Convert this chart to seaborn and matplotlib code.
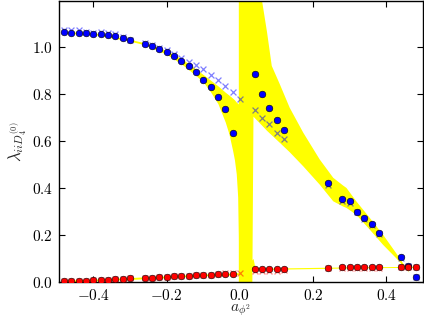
import numpy as np
import pandas as pd
import matplotlib
matplotlib.use("Agg")
import matplotlib.pyplot as plt
import seaborn as sns

# ---------------- data ----------------
# blue dots (upper level)
blue_x = [-0.48, -0.46, -0.44, -0.42, -0.40, -0.38, -0.36, -0.34, -0.32, -0.30,
          -0.26, -0.24, -0.22, -0.20, -0.18, -0.16, -0.14, -0.12, -0.10, -0.08,
          -0.06, -0.04, -0.02,
          0.04, 0.06, 0.08, 0.10, 0.12, 0.24, 0.28, 0.30, 0.32, 0.34, 0.36, 0.38,
          0.44, 0.46, 0.48]
blue_y = [1.061, 1.060, 1.060, 1.057, 1.056, 1.053, 1.049, 1.044, 1.037, 1.028,
          1.013, 1.003, 0.989, 0.976, 0.961, 0.938, 0.919, 0.891, 0.861, 0.829,
          0.787, 0.735, 0.632,
          0.886, 0.798, 0.740, 0.687, 0.645, 0.421, 0.353, 0.344, 0.299, 0.274, 0.247, 0.207,
          0.105, 0.068, 0.020]

# pale blue crosses
bluex_x = [-0.48, -0.46, -0.44, -0.42, -0.40, -0.38, -0.36, -0.34, -0.32, -0.30,
           -0.26, -0.24, -0.22, -0.20, -0.18, -0.16, -0.14, -0.12, -0.10, -0.08,
           -0.06, -0.04, -0.02, 0.00,
           0.04, 0.06, 0.08, 0.10, 0.12, 0.24, 0.28, 0.30, 0.32, 0.34, 0.36, 0.38,
           0.44, 0.46, 0.48]
bluex_y = [1.072, 1.071, 1.070, 1.062, 1.060, 1.063, 1.060, 1.055, 1.040, 1.030,
           1.015, 1.007, 0.997, 0.985, 0.970, 0.953, 0.937, 0.922, 0.904, 0.882,
           0.859, 0.834, 0.810, 0.780,
           0.731, 0.696, 0.673, 0.635, 0.609, 0.413, 0.345, 0.336, 0.296, 0.270, 0.244, 0.205,
           0.103, 0.066, 0.020]

# red dots (lower level)
red_x = [-0.48, -0.46, -0.44, -0.42, -0.40, -0.38, -0.36, -0.34, -0.32, -0.30,
         -0.26, -0.24, -0.22, -0.20, -0.18, -0.16, -0.14, -0.12, -0.10, -0.08,
         -0.06, -0.04, -0.02,
         0.04, 0.06, 0.08, 0.10, 0.12, 0.24, 0.28, 0.30, 0.32, 0.34, 0.36, 0.38,
         0.44, 0.46, 0.48]
red_y = [0.003, 0.004, 0.005, 0.006, 0.008, 0.009, 0.010, 0.012, 0.013, 0.015,
         0.017, 0.019, 0.020, 0.022, 0.024, 0.025, 0.027, 0.028, 0.030, 0.031,
         0.032, 0.033, 0.033,
         0.055, 0.055, 0.056, 0.056, 0.057, 0.060, 0.062, 0.062, 0.062, 0.063, 0.063, 0.063,
         0.064, 0.065, 0.065]

# pale red crosses
redx_x = [-0.48, -0.46, -0.44, -0.42, -0.40, -0.38, -0.36, -0.34, -0.32, -0.30,
          -0.26, -0.24, -0.22, -0.20, -0.18, -0.16, -0.14, -0.12, -0.10, -0.08,
          -0.06, -0.04, -0.02, 0.00,
          0.04, 0.06, 0.08, 0.10, 0.12, 0.24, 0.28, 0.30, 0.32, 0.34, 0.36, 0.38,
          0.44, 0.46, 0.48]
redx_y = [0.003, 0.004, 0.005, 0.006, 0.008, 0.009, 0.010, 0.012, 0.013, 0.015,
          0.017, 0.019, 0.020, 0.022, 0.024, 0.025, 0.027, 0.028, 0.030, 0.031,
          0.034, 0.037, 0.038, 0.040,
          0.047, 0.047, 0.048, 0.048, 0.049, 0.058, 0.060, 0.060, 0.060, 0.061, 0.061, 0.061,
          0.063, 0.064, 0.064]

# yellow band around the left upper branch
bandL_x = [-0.48, -0.40, -0.30, -0.26, -0.20, -0.16, -0.12, -0.10, -0.08, -0.06,
           -0.04, -0.03, -0.02, -0.015, -0.01, -0.006, -0.004, -0.003]
bandL_lo = [1.057, 1.052, 1.024, 1.009, 0.968, 0.928, 0.878, 0.850, 0.808, 0.758,
            0.680, 0.630, 0.560, 0.520, 0.460, 0.360, 0.200, 0.000]
bandL_hi = [1.065, 1.060, 1.032, 1.017, 0.984, 0.950, 0.905, 0.882, 0.858, 0.834,
            0.807, 0.795, 0.782, 0.775, 0.765, 0.760, 0.757, 0.755]

# yellow band around the right upper branch
bandR_x = [-0.003, 0.034, 0.037, 0.045, 0.060, 0.074, 0.087, 0.109, 0.136, 0.173,
           0.218, 0.255, 0.282, 0.291, 0.318, 0.355, 0.391, 0.427, 0.464, 0.482]
bandR_lo = [0.000, 0.000, 0.703, 0.690, 0.666, 0.643, 0.624, 0.592, 0.552, 0.492,
            0.414, 0.343, 0.321, 0.315, 0.286, 0.222, 0.158, 0.101, 0.037, 0.000]
bandR_hi = [3.000, 2.000, 1.600, 1.400, 1.200, 1.063, 0.919, 0.841, 0.741, 0.635,
            0.521, 0.443, 0.410, 0.400, 0.343, 0.272, 0.201, 0.122, 0.037, 0.001]

# yellow band around the lower branch
bandD_x = [-0.48, -0.40, -0.30, -0.20, -0.10, -0.04, -0.02, -0.003, 0.036, 0.040,
           0.050, 0.080, 0.120, 0.240, 0.300, 0.380, 0.440, 0.480]
bandD_lo = [-0.002, 0.004, 0.011, 0.018, 0.026, 0.029, 0.030, 0.032, 0.050, 0.052,
            0.053, 0.054, 0.055, 0.058, 0.060, 0.061, 0.062, 0.062]
bandD_hi = [0.008, 0.012, 0.019, 0.026, 0.034, 0.037, 0.038, 0.040, 0.100, 0.068,
            0.061, 0.059, 0.060, 0.063, 0.064, 0.065, 0.066, 0.067]

xticks = [-0.4, -0.2, 0.0, 0.2, 0.4]
xtick_labels = ["$-0.4$", "$-0.2$", "$0.0$", "$0.2$", "$0.4$"]
yticks = [0.0, 0.2, 0.4, 0.6, 0.8, 1.0]
ytick_labels = ["$0.0$", "$0.2$", "$0.4$", "$0.6$", "$0.8$", "$1.0$"]

# ---------------- plot ----------------
sns.set_theme(style="ticks")
plt.rcParams["mathtext.fontset"] = "cm"
plt.rcParams["font.family"] = ["DejaVu Serif"]

fig = plt.figure(figsize=(4.24, 3.18), dpi=100)
ax = fig.add_axes([0.1384, 0.1132, 0.9976 - 0.1384, 0.9969 - 0.1132])

yellow = "#ffff00"
for bx, blo, bhi in [(bandL_x, bandL_lo, bandL_hi),
                     (bandR_x, bandR_lo, bandR_hi),
                     (bandD_x, bandD_lo, bandD_hi)]:
    ax.fill_between(bx, blo, bhi, color=yellow, linewidth=0, zorder=1)

df_bx = pd.DataFrame({"x": bluex_x, "y": bluex_y})
df_rx = pd.DataFrame({"x": redx_x, "y": redx_y})
df_b = pd.DataFrame({"x": blue_x, "y": blue_y})
df_r = pd.DataFrame({"x": red_x, "y": red_y})

sns.scatterplot(data=df_bx, x="x", y="y", marker="x", color="blue", alpha=0.5,
                s=18, linewidth=0.9, ax=ax, zorder=3, legend=False)
sns.scatterplot(data=df_rx, x="x", y="y", marker="x", color="red", alpha=0.5,
                s=18, linewidth=0.9, ax=ax, zorder=3, legend=False)
sns.scatterplot(data=df_b, x="x", y="y", marker="o", color="blue", edgecolor="black",
                linewidth=0.4, s=23, ax=ax, zorder=4, legend=False)
sns.scatterplot(data=df_r, x="x", y="y", marker="o", color="red", edgecolor="black",
                linewidth=0.4, s=23, ax=ax, zorder=4, legend=False)

ax.set_xlim(-0.495, 0.5)
ax.set_ylim(0.0, 1.195)
ax.set_xticks(xticks)
ax.set_xticklabels(xtick_labels)
ax.set_yticks(yticks)
ax.set_yticklabels(ytick_labels)
ax.tick_params(direction="in", length=4, width=0.8, top=True, right=True,
               labelsize=11, colors="black", pad=4)
for sp in ax.spines.values():
    sp.set_linewidth(1.0)
    sp.set_color("black")
    sp.set_visible(True)

ax.set_xlabel(r"$a_{\phi^2}$", fontsize=11, labelpad=0)
ax.set_ylabel(r"$\lambda_{ii D_4^{(0)}}$", fontsize=12, labelpad=2)

fig.savefig("out.png", dpi=100)
